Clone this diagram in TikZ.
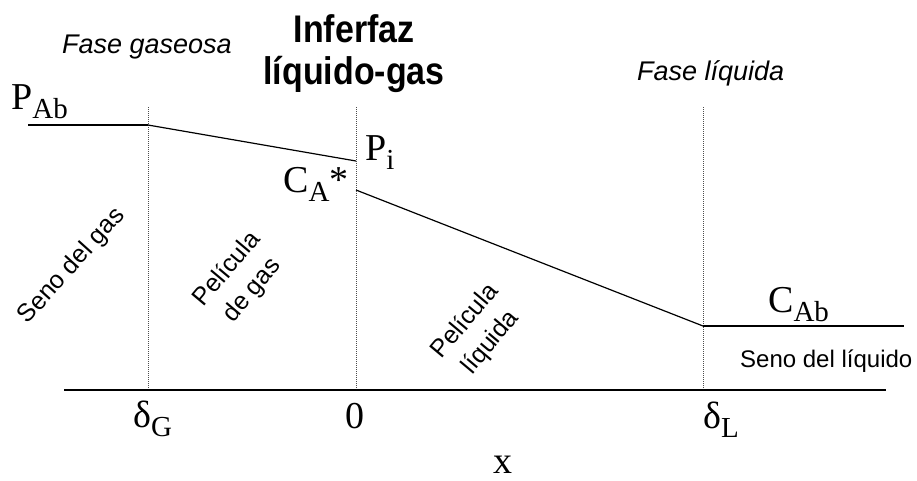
\documentclass[tikz,border=0pt]{standalone}
\usepackage{fontspec}
\setmainfont{Liberation Serif}
\newfontfamily\arialf{Liberation Sans}
\newcommand\lowsub[1]{\raisebox{-9pt}{\fontsize{29}{29}\selectfont #1}}
\begin{document}
\begin{tikzpicture}[x=1pt,y=-1pt,
  thickline/.style={line width=2.4pt},
  thinline/.style={line width=1.2pt},
  guide/.style={line width=0.8pt, black!70, dash pattern=on 1pt off 1pt},
  serifl/.style={inner sep=0pt, font=\fontsize{38}{38}\selectfont},
  sansl/.style={inner sep=0pt, font=\arialf\fontsize{24}{24}\selectfont},
  phasel/.style={inner sep=0pt, font=\arialf\itshape\fontsize{27}{27}\selectfont},
  filml/.style={inner sep=0pt, align=center, rotate=50, font=\arialf\fontsize{25}{33}\selectfont},
  titlel/.style={inner sep=0pt, align=center, font=\arialf\bfseries\fontsize{35}{42}\selectfont}]
\useasboundingbox (0,0) rectangle (917,480);
% key points
\coordinate (pab0) at (28,125);
\coordinate (dgp) at (148,125);
\coordinate (pi) at (356,161);
\coordinate (ca) at (356,190);
\coordinate (dlp) at (703,326);
\coordinate (cab1) at (904,326);
\coordinate (ax0) at (64,390);
\coordinate (ax1) at (886,390);
\coordinate (dgtop) at (148,107);
\coordinate (dgbot) at (148,390);
\coordinate (ztop) at (356,107);
\coordinate (zbot) at (356,390);
\coordinate (dltop) at (703,107);
\coordinate (dlbot) at (703,390);
% guides
\draw[guide] (dgtop) -- (dgbot);
\draw[guide] (ztop) -- (zbot);
\draw[guide] (dltop) -- (dlbot);
% profiles
\draw[thickline] (pab0) -- (dgp);
\draw[thinline] (dgp) -- (pi);
\draw[thinline] (ca) -- (dlp);
\draw[thickline] (dlp) -- (cab1);
\draw[thickline] (ax0) -- (ax1);
% titles
\node[phasel, anchor=base west] (fg) at (62,53) {Fase gaseosa};
\node[phasel, anchor=base west] (fl) at (637,80) {Fase líquida};
\node[titlel] (inter) at (354,54) {\scalebox{0.97}[1.1]{Inferfaz}\\\scalebox{0.97}[1.1]{líquido-gas}};
% serif labels
\node[serifl, anchor=base west] (lpab) at (11,109) {P\lowsub{Ab}};
\node[serifl, anchor=base west] (lpi) at (365,160) {P\lowsub{i}};
\node[serifl, anchor=base west] (lca) at (283,192) {C\lowsub{A}*};
\node[serifl, anchor=base west] (lcab) at (768,312) {C\lowsub{Ab}};
\node[serifl, anchor=base west] (ldg) at (133,427) {δ\lowsub{G}};
\node[serifl, anchor=base] (l0) at (355,428) {0};
\node[serifl, anchor=base west] (ldl) at (703,428) {δ\lowsub{L}};
\node[serifl, anchor=base] (lx) at (503,473) {x};
% region labels
\node[sansl, anchor=base west] (sl) at (740,367) {Seno del líquido};
\node[sansl, rotate=48, font=\arialf\fontsize{25}{25}\selectfont] (sg) at (72,266) {Seno del gas};
\node[filml] (pg) at (240,280) {Película\\de gas};
\node[filml] (pl) at (478,332) {Película\\líquida};
\end{tikzpicture}
\end{document}
